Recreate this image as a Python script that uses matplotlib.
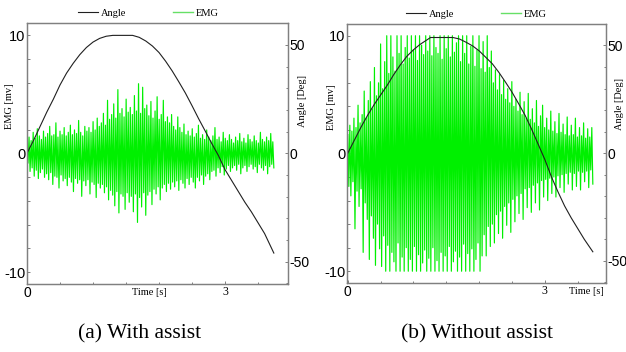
import numpy as np
import matplotlib
matplotlib.use("Agg")
from matplotlib import pyplot as plt
from matplotlib.ticker import MultipleLocator

SERIF = "Liberation Serif"
SANS = "Liberation Sans"
GREEN = "#00f000"
GRAY = "#808080"

# ---- (a) with assist ----
t_angle_a = [0, 0.1, 0.2, 0.3, 0.4, 0.5, 0.6, 0.7, 0.8, 0.9, 1.0, 1.1, 1.2, 1.3,
             1.6, 1.7, 1.8, 1.9, 2.0, 2.1, 2.2, 2.3, 2.4, 2.5, 2.6, 2.7, 2.8, 2.9,
             3.0, 3.1, 3.2, 3.3, 3.4, 3.5, 3.6, 3.74]
angle_a = [0, 6, 12.5, 19, 25, 31.5, 37, 41.5, 45.5, 48.8, 51.3, 53, 54, 54.4,
           54.4, 53.5, 51.8, 49.5, 46.5, 42.5, 38, 33, 27.8, 22, 16, 10.3, 4.5, -1,
           -7.5, -12.5, -17.5, -22.5, -27, -32, -37, -46]
emg_end_a = 3.74
emg_hi_a = [0.9, 1.4, 1.1, 1.8, 1.3, 2.1, 1.5, 1.2, 1.9, 1.4,
            1.7, 2.3, 1.5, 1.6, 2.6, 1.4, 1.9, 1.6, 2.2, 1.5,
            1.8, 2.4, 1.6, 2.0, 1.7, 2.8, 1.8, 1.5, 2.3, 1.9,
            2.2, 1.8, 2.7, 2.0, 3.0, 2.3, 2.6, 3.4, 2.4, 4.5,
            2.9, 3.3, 4.2, 3.0, 5.4, 3.4, 3.8, 3.1, 4.6, 3.5,
            3.9, 3.3, 4.9, 3.6, 5.9, 3.4, 5.6, 3.8, 4.1, 3.2,
            4.4, 3.0, 3.6, 4.8, 2.9, 3.3, 4.5, 2.7, 3.1, 2.6,
            3.3, 2.3, 2.0, 3.1, 2.2, 1.8, 2.5, 1.6, 1.9, 1.5,
            2.1, 1.4, 1.7, 2.4, 1.3, 1.6, 1.2, 2.0, 1.4, 1.1,
            1.5, 2.2, 1.2, 1.4, 1.0, 1.8, 1.3, 1.1, 1.6, 1.2,
            0.9, 1.4, 1.1, 1.7, 1.0, 1.3, 0.9, 1.6, 1.2, 1.0,
            1.5, 1.1, 0.9, 1.8, 1.2, 1.0, 1.4, 1.1, 1.7, 1.0]
emg_lo_a = [-0.8, -1.5, -1.2, -1.9, -1.4, -2.1, -1.6, -1.3, -2.0, -1.7,
            -2.2, -1.6, -2.6, -1.9, -2.0, -2.9, -1.8, -2.3, -2.1, -2.7,
            -2.0, -2.4, -3.2, -2.1, -2.5, -2.2, -3.6, -2.3, -2.7, -2.2,
            -3.4, -2.4, -2.6, -3.7, -2.5, -2.9, -2.6, -3.3, -2.8, -3.9,
            -3.1, -3.5, -4.4, -3.2, -5.0, -3.4, -3.6, -4.7, -3.3, -4.1,
            -3.6, -4.9, -3.4, -5.8, -3.7, -4.5, -3.3, -5.2, -3.5, -3.2,
            -4.3, -3.0, -3.4, -2.8, -3.9, -2.9, -2.6, -3.2, -2.5, -3.0,
            -2.4, -2.8, -2.3, -3.1, -2.2, -2.5, -2.9, -2.1, -2.6, -2.0,
            -2.4, -2.9, -2.0, -2.3, -1.8, -2.6, -1.9, -1.7, -2.2, -1.5,
            -1.4, -1.9, -1.2, -1.6, -1.1, -1.8, -1.3, -1.0, -1.5, -1.2,
            -1.0, -1.4, -0.9, -1.7, -1.2, -1.0, -1.5, -1.1, -0.9, -1.3,
            -1.1, -1.6, -0.9, -1.2, -1.4, -1.0, -1.7, -1.1, -0.9, -1.2]

# ---- (b) without assist ----
t_angle_b = [0, 0.1, 0.2, 0.3, 0.4, 0.5, 0.6, 0.7, 0.8, 0.9, 1.0, 1.1, 1.2, 1.26,
             1.6, 1.7, 1.8, 1.9, 2.0, 2.1, 2.2, 2.3, 2.4, 2.5, 2.6, 2.7, 2.8, 2.9,
             3.0, 3.1, 3.2, 3.3, 3.4, 3.5, 3.6, 3.73]
angle_b = [0, 6, 12, 17.5, 22.5, 27, 31.5, 36.5, 41, 45, 48, 50.5, 52.5, 53.7,
           53.7, 53, 51.5, 49.8, 47.5, 44.5, 41.5, 37.5, 33, 28.3, 23, 17.5, 11, 4,
           -3, -11, -18, -24.5, -30, -35, -40, -45.8]
emg_end_b = 3.73
emg_hi_b = [1.6, 2.4, 1.9, 3.0, 2.2, 4.1, 2.6, 3.3, 5.3, 3.0,
            4.5, 6.1, 3.8, 7.3, 4.9, 6.0, 9.3, 5.5, 7.8, 10.0,
            6.8, 10.0, 8.2, 7.0, 10.0, 8.5, 10.0, 7.6, 9.0, 10.0,
            8.1, 10.0, 8.8, 10.0, 7.9, 10.0, 9.2, 8.4, 10.0, 8.7,
            10.0, 8.3, 10.0, 9.0, 8.5, 10.0, 8.0, 10.0, 8.9, 10.0,
            8.2, 10.0, 8.6, 9.4, 10.0, 7.8, 10.0, 8.5, 10.0, 7.6,
            9.1, 10.0, 7.4, 8.8, 10.0, 7.2, 9.5, 6.9, 10.0, 7.3,
            8.7, 6.0, 7.1, 5.4, 6.7, 5.0, 6.2, 4.6, 5.5, 4.3,
            6.1, 4.0, 4.6, 3.6, 5.2, 3.3, 4.4, 3.0, 5.1, 2.9,
            3.8, 2.6, 4.5, 2.3, 3.2, 4.1, 2.2, 3.0, 2.0, 3.6,
            1.9, 2.7, 1.7, 3.4, 1.8, 2.5, 1.6, 3.1, 1.5, 2.4,
            1.6, 3.0, 1.4, 2.2, 1.5, 2.6, 1.3, 2.1, 1.4, 2.2]
emg_lo_b = [-2.8, -3.6, -2.4, -6.4, -3.2, -4.5, -3.0, -8.4, -4.2, -5.6,
            -9.0, -5.3, -7.2, -9.5, -6.0, -8.1, -9.6, -7.0, -10.0, -7.8,
            -10.0, -8.4, -9.2, -10.0, -7.6, -10.0, -8.8, -10.0, -8.0, -10.0,
            -9.0, -10.0, -7.9, -10.0, -8.6, -10.0, -9.3, -8.2, -10.0, -8.9,
            -10.0, -8.0, -10.0, -9.1, -10.0, -8.4, -10.0, -8.7, -10.0, -7.9,
            -10.0, -9.2, -8.3, -10.0, -8.8, -10.0, -7.7, -10.0, -8.5, -10.0,
            -8.1, -10.0, -9.0, -7.6, -10.0, -8.7, -6.9, -8.7, -6.2, -7.9,
            -6.0, -7.6, -5.2, -6.8, -4.9, -7.2, -4.5, -6.1, -4.2, -6.7,
            -3.9, -5.8, -3.6, -5.1, -3.4, -5.6, -3.0, -4.6, -2.9, -5.0,
            -2.7, -4.2, -2.5, -4.8, -2.3, -3.7, -2.2, -4.0, -2.1, -3.4,
            -2.0, -3.7, -1.9, -2.9, -1.8, -3.3, -1.7, -2.6, -1.6, -3.1,
            -1.7, -2.8, -1.5, -3.1, -1.6, -2.4, -1.5, -2.9, -1.4, -2.6]

captions = ["(a) With assist", "(b) Without assist"]

plt.rcParams["font.family"] = SERIF


def style_axis(ax):
    for s in ax.spines.values():
        s.set_color(GRAY)
        s.set_linewidth(0.9)
    ax.tick_params(which="both", direction="in", color=GRAY, width=0.7, pad=1.2)
    ax.tick_params(which="major", length=2.5)
    ax.tick_params(which="minor", length=1.8)


def draw_panel(ax, t_ang, ang, hi, lo, t_end, xlim, ylab_xy, rlab_xy, time_xy, leg_x):
    emg = np.column_stack([hi, lo]).ravel()
    t = np.linspace(0, t_end, len(emg))
    emg_line, = ax.plot(t, emg, color=GREEN, lw=0.85, label="EMG")
    ax.set_xlim(*xlim)
    ax.set_ylim(-11, 11)
    ax.set_yticks([-10, 0, 10])
    ax.set_yticklabels(["-10", "0", "10"], family=SANS, fontsize=10.5)
    ax.yaxis.set_minor_locator(MultipleLocator(2))
    ax.set_xticks([0, 3])
    ax.set_xticklabels(["0", "3"])
    ax.xaxis.set_minor_locator(MultipleLocator(0.5))
    lbls = ax.get_xticklabels()
    lbls[0].set_family(SANS)
    lbls[0].set_fontsize(10)
    lbls[1].set_family(SERIF)
    lbls[1].set_fontsize(8.5)
    ax.set_ylabel("EMG [mv]", fontsize=7.5)
    ax.yaxis.set_label_coords(*ylab_xy)
    ax.set_xlabel("Time [s]", fontsize=7.5)
    ax.xaxis.set_label_coords(*time_xy)
    style_axis(ax)

    ax2 = ax.twinx()
    ang_line, = ax2.plot(t_ang, ang, color="#202020", lw=0.8, label="Angle")
    ax2.set_ylim(-60.3, 60)
    ax2.set_yticks([-50, 0, 50])
    ax2.set_yticklabels(["-50", "0", "50"], family=SANS, fontsize=10)
    ax2.yaxis.set_minor_locator(MultipleLocator(10))
    ax2.set_ylabel("Angle [Deg]", fontsize=7.5)
    ax2.yaxis.set_label_coords(*rlab_xy)
    style_axis(ax2)

    leg = ax2.legend([ang_line, emg_line], ["Angle", "EMG"], loc="lower center",
                     bbox_to_anchor=(leg_x, 1.0), ncol=2, frameon=False, fontsize=7.5,
                     handlelength=1.9, handletextpad=0.3, columnspacing=4.5,
                     borderaxespad=0.1)
    leg.get_lines()[1].set_color("#66e066")
    leg.get_lines()[1].set_linewidth(1.0)
    return ax2


fig = plt.figure(figsize=(6.26, 3.52), dpi=100)
ax_a = fig.add_axes([0.0431, 0.193, 0.417, 0.741])
ax_b = fig.add_axes([0.554, 0.196, 0.414, 0.736])

draw_panel(ax_a, t_angle_a, angle_a, emg_hi_a, emg_lo_a, emg_end_a,
           (0, 3.955), (-0.05, 0.68), (1.04, 0.70), (0.47, -0.015), 0.465)
draw_panel(ax_b, t_angle_b, angle_b, emg_hi_b, emg_lo_b, emg_end_b,
           (-0.015, 3.93), (-0.042, 0.68), (1.035, 0.69), (0.923, -0.015), 0.5)

fig.text(140 / 626, 1 - 334 / 352, captions[0], ha="center", va="center", fontsize=15.5)
fig.text(477 / 626, 1 - 334 / 352, captions[1], ha="center", va="center", fontsize=15.5)

fig.savefig("out.png", dpi=100, facecolor="white")
